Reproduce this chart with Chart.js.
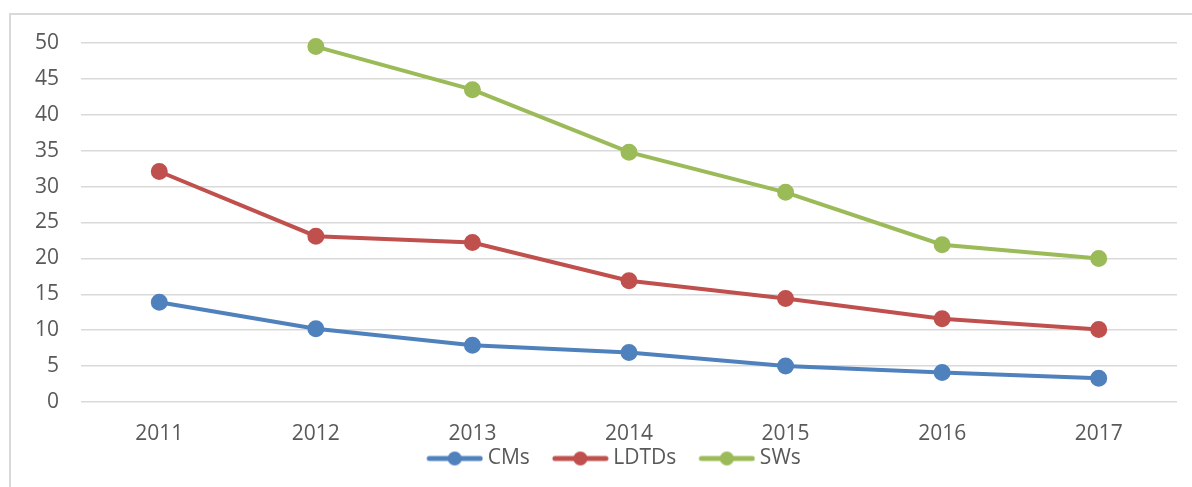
<!DOCTYPE html>
<html>
<head>
<meta charset="utf-8">
<script src="https://cdn.jsdelivr.net/npm/chart.js@4"></script>
<style>
  html, body { margin: 0; padding: 0; background: #fff; overflow: hidden; }
  .frame { position: absolute; left: 9px; top: 13px; width: 1200px; height: 500px; border: 2px solid #d9d9d9; }
  .wrap { position: absolute; left: 0; top: 0; width: 1192px; height: 487px; }
</style>
</head>
<body>
<div class="frame"></div>
<div class="wrap"><canvas id="myChart"></canvas></div>
<script>
const years = ['2011', '2012', '2013', '2014', '2015', '2016', '2017']
const cms = [13.9, 10.2, 7.9, 6.9, 5.0, 4.1, 3.3]
const ldtds = [32.1, 23.1, 22.2, 16.9, 14.4, 11.6, 10.1]
const sws = [null, 49.5, 43.5, 34.8, 29.2, 21.9, 20.0]
const yTicks = [0, 5, 10, 15, 20, 25, 30, 35, 40, 45, 50]

const FONT = "'Open Sans', 'Liberation Sans', sans-serif"
const TEXT = '#595959'
const FS = 21

// legend icon: blank gap on the left, then line with a dot, hugging the text
function legendIcon (color) {
  const c = document.createElement('canvas')
  c.width = 83
  c.height = 16
  const g = c.getContext('2d')
  g.strokeStyle = color
  g.lineWidth = 5
  g.lineCap = 'round'
  g.beginPath()
  g.moveTo(29, 8)
  g.lineTo(80, 8)
  g.stroke()
  g.fillStyle = color
  g.beginPath()
  g.arc(54.5, 8, 7, 0, Math.PI * 2)
  g.fill()
  return c
}

function series (label, values, color) {
  return {
    label: label,
    data: values,
    borderColor: color,
    backgroundColor: color,
    borderWidth: 4,
    pointRadius: 6.5,
    pointHoverRadius: 6.5,
    pointBackgroundColor: color,
    pointBorderColor: color,
    pointStyle: 'circle',
    icon: legendIcon(color),
    tension: 0,
    fill: false
  }
}

const data = {
  labels: years,
  datasets: [
    series('CMs', cms, '#4f81bd'),
    series('LDTDs', ldtds, '#c0504d'),
    series('SWs', sws, '#9bbb59')
  ]
}

const config = {
  type: 'line',
  data: data,
  options: {
    responsive: false,
    animation: false,
    clip: false,
    layout: { padding: { top: 43, right: 15, bottom: 8, left: 30 } },
    plugins: {
      tooltip: { enabled: false },
      legend: {
        position: 'bottom',
        labels: {
          usePointStyle: true,
          pointStyleWidth: 71,
          padding: 2,
          color: TEXT,
          font: { family: FONT, size: FS },
          generateLabels: chart => chart.data.datasets.map((ds, i) => ({
            text: ds.label,
            pointStyle: ds.icon,
            fillStyle: ds.borderColor,
            strokeStyle: ds.borderColor,
            lineWidth: 0,
            fontColor: TEXT,
            datasetIndex: i
          }))
        }
      }
    },
    scales: {
      x: {
        offset: true,
        afterFit: scale => { scale.height = 44 },
        grid: { display: false, drawTicks: false },
        border: { display: false },
        ticks: { color: TEXT, padding: 19, maxRotation: 0, font: { family: FONT, size: FS } }
      },
      y: {
        min: 0,
        max: 50,
        afterFit: scale => { scale.width = 51 },
        afterBuildTicks: scale => { scale.ticks = yTicks.map(v => ({ value: v })) },
        grid: { color: '#d9d9d9', lineWidth: 1.5, drawTicks: false },
        border: { display: false },
        ticks: { color: TEXT, padding: 22, font: { family: FONT, size: FS } }
      }
    }
  }
}

const ctx = document.getElementById('myChart')
ctx.width = 1192
ctx.height = 487
const chart = new Chart(ctx, config)
</script>
</body>
</html>
